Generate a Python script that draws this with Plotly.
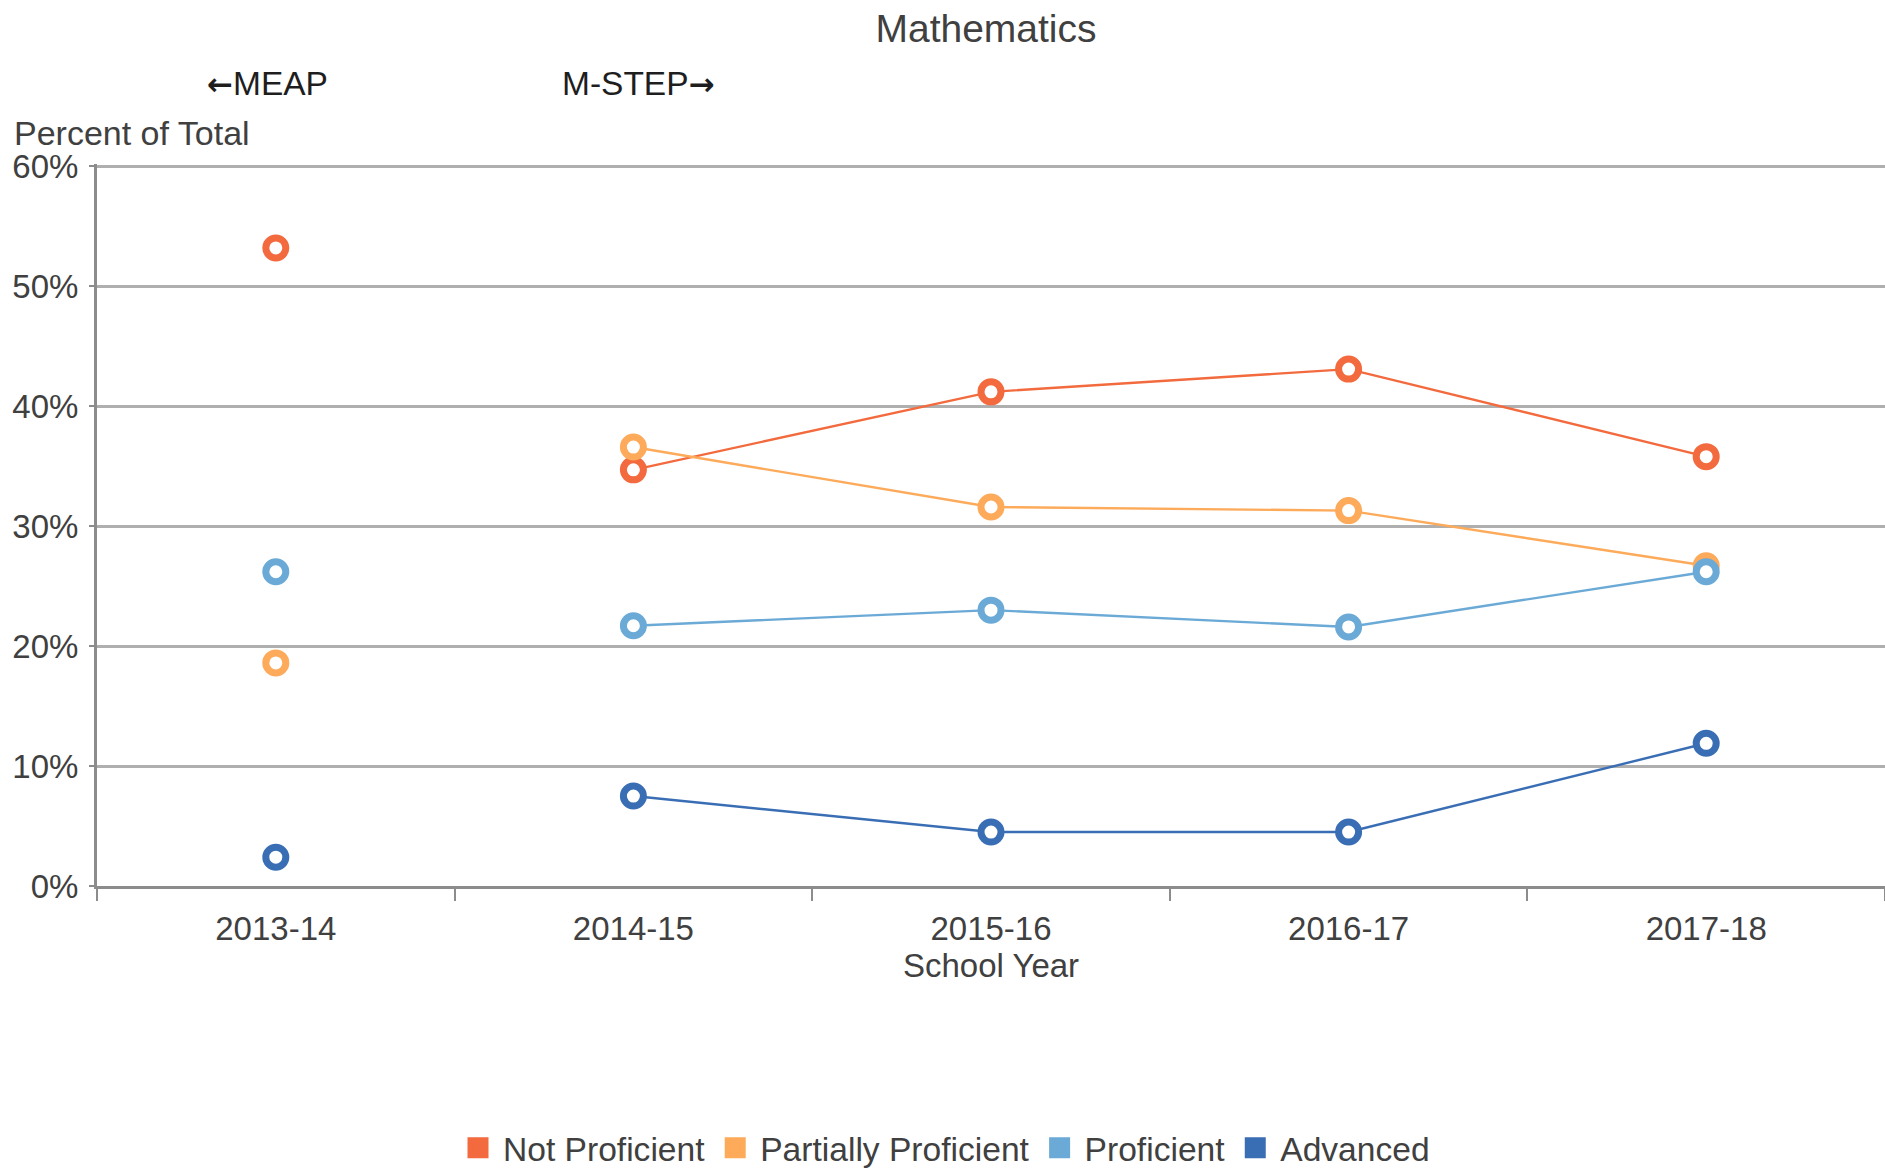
import plotly.graph_objects as go

years = ["2013-14", "2014-15", "2015-16", "2016-17", "2017-18"]
series_names = ["Not Proficient", "Partially Proficient", "Proficient", "Advanced"]
not_proficient = [53.2, 34.7, 41.2, 43.1, 35.8]
partially_proficient = [18.6, 36.6, 31.6, 31.3, 26.7]
proficient = [26.2, 21.7, 23.0, 21.6, 26.2]
advanced = [2.4, 7.5, 4.5, 4.5, 11.9]
colors = ["#F26A3D", "#FDAA5A", "#6BAAD6", "#3A6EB4"]

FONT = "Liberation Sans, Arial, Helvetica, sans-serif"
TXT = "#404040"

W, H = 1885, 1169
PL, PT, PB = 97, 164, 886          # plot-area edges in page pixels
PW, PH = W - PL, PB - PT


def px(xp):
    return (xp - PL) / PW


def py(yp):
    return (PB - yp) / PH


fig = go.Figure()
all_vals = [not_proficient, partially_proficient, proficient, advanced]
for name, vals, col in zip(series_names, all_vals, colors):
    # MEAP year (2013-14) is not connected to the M-STEP years
    xs = [years[0], None] + years[1:]
    ys = [vals[0], None] + vals[1:]
    fig.add_trace(go.Scatter(
        x=xs, y=ys, mode="lines+markers", name=name, showlegend=False,
        connectgaps=False,
        line=dict(color=col, width=2.4),
        marker=dict(symbol="circle", size=20, color="white",
                    line=dict(color=col, width=7)),
        cliponaxis=False,
    ))
for name, col in zip(series_names, colors):
    fig.add_trace(go.Scatter(
        x=[None], y=[None], mode="markers", name=name, showlegend=True,
        marker=dict(symbol="square", size=16, color=col, line=dict(color=col, width=5)),
    ))

fig.update_layout(
    width=W, height=H,
    margin=dict(l=PL, r=0, t=PT, b=H - PB, autoexpand=False),
    paper_bgcolor="white", plot_bgcolor="white",
    font=dict(family=FONT, size=33, color=TXT),
    title=dict(text="Mathematics", x=px(986), xref="paper", xanchor="center",
               y=1 - 28 / H, yanchor="middle", yref="container",
               font=dict(size=39, color=TXT)),
    legend=dict(orientation="h", x=px(944), xanchor="center", y=py(1148), yanchor="middle",
                font=dict(size=33.6, color=TXT), itemsizing="trace", itemwidth=40,
                traceorder="normal"),
    showlegend=True,
)

fig.update_xaxes(
    type="category", categoryorder="array", categoryarray=years,
    range=[-0.5, 4.5], tickson="boundaries",
    ticks="outside", ticklen=12, tickwidth=2, tickcolor="#8C8C8C",
    showline=True, linecolor="#8C8C8C", linewidth=3,
    showgrid=False, zeroline=False, ticklabelstandoff=11,
    tickfont=dict(size=33, color=TXT),
    title=dict(text="School Year", standoff=8, font=dict(size=33, color=TXT)),
)
fig.update_yaxes(
    range=[0, 60.2], tick0=0, dtick=10, ticksuffix="%",
    ticks="outside", ticklen=5, tickwidth=2, tickcolor="#8C8C8C",
    showline=True, linecolor="#8C8C8C", linewidth=3,
    showgrid=True, gridcolor="#AFAFAF", gridwidth=3,
    zeroline=False, ticklabelstandoff=4,
    tickfont=dict(size=33, color=TXT),
)

ARROW = "<span style='font-family:DejaVu Sans;font-weight:bold;font-size:31px'>{}</span>"
fig.add_annotation(text=ARROW.format("\u2190") + "MEAP", xref="paper", yref="paper",
                   x=px(267), y=py(83),
                   xanchor="center", yanchor="middle", showarrow=False,
                   font=dict(size=33.5, color="#1E1E1E"))
fig.add_annotation(text="M-STEP" + ARROW.format("\u2192"), xref="paper", yref="paper",
                   x=px(638), y=py(83),
                   xanchor="center", yanchor="middle", showarrow=False,
                   font=dict(size=33.5, color="#1E1E1E"))
fig.add_annotation(text="Percent of Total", xref="paper", yref="paper",
                   x=px(12), y=py(133),
                   xanchor="left", yanchor="middle", showarrow=False,
                   font=dict(size=34, color=TXT))

fig.write_html(
    "out.html",
    config={"displayModeBar": False},
    post_script="document.body.style.margin='0';"
                "document.documentElement.style.overflow='hidden';",
)
